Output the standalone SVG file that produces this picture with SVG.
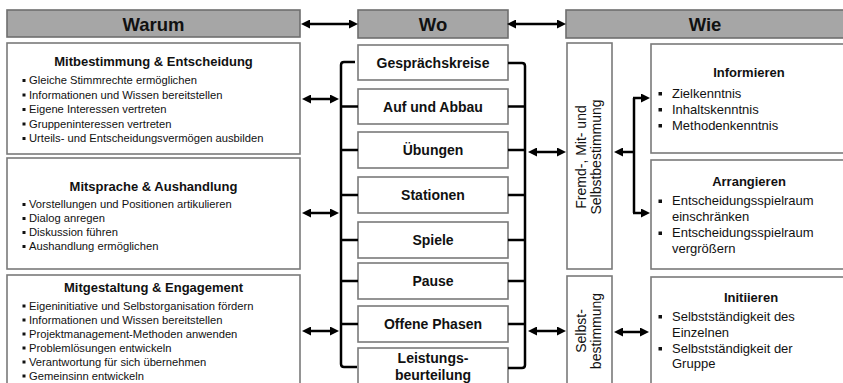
<svg xmlns="http://www.w3.org/2000/svg" width="843" height="383" viewBox="0 0 843 383">
<style>
text{font-family:"Liberation Sans",Arial,sans-serif;fill:#111}
.hdr rect{fill:#a6a6a6;stroke:#6e6e6e;stroke-width:1.6}
.hdr text{font-size:18.5px;font-weight:bold;text-anchor:middle}
.box{fill:#fff;stroke:#7a7a7a;stroke-width:1.6}
.ttl{font-size:13px;font-weight:bold;text-anchor:middle}
.bl{font-size:11.2px}
.br{font-size:13px}
.wo text{font-size:14px;font-weight:bold;text-anchor:middle}
.rot{font-size:14px;text-anchor:middle}
.sq{fill:#111}
.ln{stroke:#000;stroke-width:2.5;fill:none}
.ar{stroke:#000;stroke-width:2.5;fill:none;marker-end:url(#ah);marker-start:url(#ah)}
.a1{stroke:#000;stroke-width:2.5;fill:none;marker-end:url(#ah)}
</style>
<defs>
<marker id="ah" markerUnits="userSpaceOnUse" markerWidth="9" markerHeight="9" refX="4" refY="4.5" orient="auto-start-reverse" viewBox="0 0 9 9">
<path d="M0,0 L9,4.5 L0,9 z" fill="#000"/>
</marker>
</defs>
<rect width="843" height="383" fill="#fff"/>

<g id="hdr-warum" class="hdr"><rect x="7" y="10" width="293" height="27"/><text x="153.5" y="30.5">Warum</text></g>
<g id="hdr-wo" class="hdr"><rect x="358" y="10" width="150" height="28"/><text x="433" y="30.5">Wo</text></g>
<g id="hdr-wie" class="hdr"><rect x="566" y="10" width="285" height="28"/><text x="705" y="30.5">Wie</text></g>

<g id="warum-1">
<rect class="box" x="7" y="43" width="293" height="111"/>
<text class="ttl" x="153.5" y="66">Mitbestimmung &amp; Entscheidung</text>
<rect class="sq" x="22.5" y="79" width="3" height="3"/><text class="bl" x="29" y="84">Gleiche Stimmrechte ermöglichen</text>
<rect class="sq" x="22.5" y="93.5" width="3" height="3"/><text class="bl" x="29" y="98.5">Informationen und Wissen bereitstellen</text>
<rect class="sq" x="22.5" y="108" width="3" height="3"/><text class="bl" x="29" y="113">Eigene Interessen vertreten</text>
<rect class="sq" x="22.5" y="122.5" width="3" height="3"/><text class="bl" x="29" y="127.5">Gruppeninteressen vertreten</text>
<rect class="sq" x="22.5" y="137" width="3" height="3"/><text class="bl" x="29" y="142">Urteils- und Entscheidungsvermögen ausbilden</text>
</g>

<g id="warum-2">
<rect class="box" x="7" y="158" width="293" height="111"/>
<text class="ttl" x="153.5" y="191">Mitsprache &amp; Aushandlung</text>
<rect class="sq" x="22.5" y="203" width="3" height="3"/><text class="bl" x="29" y="208">Vorstellungen und Positionen artikulieren</text>
<rect class="sq" x="22.5" y="217" width="3" height="3"/><text class="bl" x="29" y="222">Dialog anregen</text>
<rect class="sq" x="22.5" y="231" width="3" height="3"/><text class="bl" x="29" y="236">Diskussion führen</text>
<rect class="sq" x="22.5" y="245" width="3" height="3"/><text class="bl" x="29" y="250">Aushandlung ermöglichen</text>
</g>

<g id="warum-3">
<rect class="box" x="7" y="275" width="293" height="120"/>
<text class="ttl" x="153.5" y="292">Mitgestaltung &amp; Engagement</text>
<rect class="sq" x="22.5" y="304.5" width="3" height="3"/><text class="bl" x="29" y="309.5">Eigeninitiative und Selbstorganisation fördern</text>
<rect class="sq" x="22.5" y="318.5" width="3" height="3"/><text class="bl" x="29" y="323.5">Informationen und Wissen bereitstellen</text>
<rect class="sq" x="22.5" y="332.5" width="3" height="3"/><text class="bl" x="29" y="337.5">Projektmanagement-Methoden anwenden</text>
<rect class="sq" x="22.5" y="346.5" width="3" height="3"/><text class="bl" x="29" y="351.5">Problemlösungen entwickeln</text>
<rect class="sq" x="22.5" y="360.5" width="3" height="3"/><text class="bl" x="29" y="365.5">Verantwortung für sich übernehmen</text>
<rect class="sq" x="22.5" y="374.5" width="3" height="3"/><text class="bl" x="29" y="379.5">Gemeinsinn entwickeln</text>
</g>

<g id="wo-1" class="wo"><rect class="box" x="358" y="45" width="150" height="35"/><text x="433" y="67.5">Gesprächskreise</text></g>
<g id="wo-2" class="wo"><rect class="box" x="358" y="89" width="150" height="35"/><text x="433" y="111.5">Auf und Abbau</text></g>
<g id="wo-3" class="wo"><rect class="box" x="358" y="132" width="150" height="36"/><text x="433" y="155">Übungen</text></g>
<g id="wo-4" class="wo"><rect class="box" x="358" y="177" width="150" height="36"/><text x="433" y="200">Stationen</text></g>
<g id="wo-5" class="wo"><rect class="box" x="358" y="222" width="150" height="36"/><text x="433" y="245">Spiele</text></g>
<g id="wo-6" class="wo"><rect class="box" x="358" y="263" width="150" height="36"/><text x="433" y="286">Pause</text></g>
<g id="wo-7" class="wo"><rect class="box" x="358" y="306" width="150" height="36"/><text x="433" y="329">Offene Phasen</text></g>
<g id="wo-8" class="wo"><rect class="box" x="358" y="348" width="150" height="48"/><text x="433" y="363">Leistungs-</text><text x="433" y="380">beurteilung</text></g>

<g id="wie-fremd">
<rect class="box" x="567" y="43" width="45" height="226"/>
<g transform="translate(586,157) rotate(-90)"><text class="rot" x="0" y="0">Fremd-, Mit- und</text><text class="rot" x="0" y="15">Selbstbestimmung</text></g>
</g>
<g id="wie-selbst">
<rect class="box" x="567" y="276" width="45" height="120"/>
<g transform="translate(586,331) rotate(-90)"><text class="rot" x="0" y="0">Selbst-</text><text class="rot" x="0" y="15">bestimmung</text></g>
</g>

<g id="wie-informieren">
<rect class="box" x="651" y="44" width="200" height="109"/>
<text class="ttl" x="749" y="77">Informieren</text>
<rect class="sq" x="658.5" y="92" width="3.5" height="3.5"/><text class="br" x="672" y="97.5">Zielkenntnis</text>
<rect class="sq" x="658.5" y="108" width="3.5" height="3.5"/><text class="br" x="672" y="113.5">Inhaltskenntnis</text>
<rect class="sq" x="658.5" y="124" width="3.5" height="3.5"/><text class="br" x="672" y="129.5">Methodenkenntnis</text>
</g>
<g id="wie-arrangieren">
<rect class="box" x="651" y="160" width="200" height="109"/>
<text class="ttl" x="749" y="186">Arrangieren</text>
<rect class="sq" x="658.5" y="199.5" width="3.5" height="3.5"/><text class="br" x="672" y="205">Entscheidungsspielraum</text>
<text class="br" x="672" y="221">einschränken</text>
<rect class="sq" x="658.5" y="231.5" width="3.5" height="3.5"/><text class="br" x="672" y="237">Entscheidungsspielraum</text>
<text class="br" x="672" y="252.5">vergrößern</text>
</g>
<g id="wie-initiieren">
<rect class="box" x="651" y="277" width="200" height="120"/>
<text class="ttl" x="751" y="302">Initiieren</text>
<rect class="sq" x="658.5" y="315" width="3.5" height="3.5"/><text class="br" x="672" y="320.5">Selbstständigkeit des</text>
<text class="br" x="672" y="336.5">Einzelnen</text>
<rect class="sq" x="658.5" y="347" width="3.5" height="3.5"/><text class="br" x="672" y="352.5">Selbstständigkeit der</text>
<text class="br" x="672" y="368">Gruppe</text>
</g>

<g id="connectors">
<line class="ar" x1="306" y1="24" x2="353" y2="24"/>
<line class="ar" x1="512" y1="24" x2="561" y2="24"/>
<path class="ln" d="M355,62 H344 Q341,62 341,65 V364 Q341,367 344,367 H357"/>
<path class="ln" d="M341,106.5 H358 M341,150 H358 M341,195 H358 M341,240 H358 M341,281 H358 M341,324 H358"/>
<path class="ln" d="M508,63 H522 Q525,63 525,66 V365 Q525,368 522,368 H508"/>
<path class="ln" d="M508,106.5 H525 M508,150 H525 M508,195 H525 M508,240 H525 M508,281 H525 M508,324 H525"/>
<line class="ar" x1="307" y1="99" x2="334" y2="99"/>
<line class="ar" x1="307" y1="213" x2="334" y2="213"/>
<line class="ar" x1="307" y1="331" x2="334" y2="331"/>
<line class="ar" x1="533" y1="152" x2="561" y2="152"/>
<line class="ar" x1="533" y1="331" x2="561" y2="331"/>
<line class="a1" x1="634" y1="152" x2="619" y2="152"/>
<path class="ln" d="M634,98 V213"/>
<line class="a1" x1="633" y1="98" x2="645" y2="98"/>
<line class="a1" x1="633" y1="213" x2="645" y2="213"/>
<line class="ar" x1="619" y1="332" x2="644" y2="332"/>
</g>
</svg>
